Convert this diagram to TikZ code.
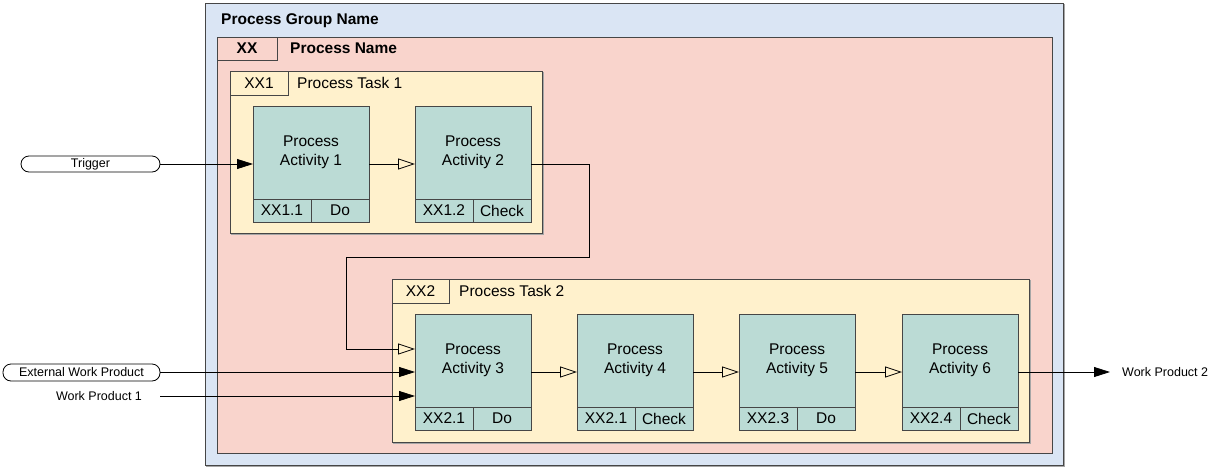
\documentclass[tikz,border=0pt]{standalone}
\usepackage{fontspec}
\setmainfont{Liberation Sans}
\usetikzlibrary{arrows.meta,positioning,calc}
\definecolor{grpblue}{RGB}{218,229,244}
\definecolor{procpink}{RGB}{249,212,204}
\definecolor{taskyel}{RGB}{255,241,204}
\definecolor{actteal}{RGB}{187,219,213}
\definecolor{edge}{RGB}{70,70,70}
\tikzset{
  box/.style={draw=edge, line width=0.9pt, anchor=north west, inner sep=0pt, outer sep=0pt},
  shadowed/.style={preaction={draw=black!35, line width=1.4pt, transform canvas={xshift=1.2pt,yshift=-1.2pt}}},
  bigtxt/.style={font=\fontsize{15.5}{19}\selectfont, inner sep=0pt},
  bigbold/.style={font=\fontsize{15.5}{19}\selectfont\bfseries, inner sep=0pt},
  smalltxt/.style={font=\fontsize{12.5}{15}\selectfont, inner sep=0pt},
  act/.style={box, fill=actteal, minimum width=116pt, minimum height=116pt},
  cell/.style={draw=edge, line width=0.9pt, fill=actteal, minimum width=58pt, minimum height=23pt, inner sep=0pt, outer sep=0pt, font=\fontsize{15.5}{19}\selectfont},
  acttxt/.style={bigtxt, align=center},
  flow/.style={draw=black, line width=0.8pt, -{Triangle[open, length=17pt, width=11pt]}},
  inflow/.style={draw=black, line width=0.8pt, -{Triangle[length=16pt, width=10pt]}},
  pill/.style={draw=black, line width=0.8pt, rounded corners=8pt, fill=white, inner sep=0pt, smalltxt},
}
\newcommand{\activitybox}[6]{%
  \node[act] (#1) at (#2,#3) {};
  \node[cell, anchor=south west] (#1-id) at (#1.south west) {#5};
  \node[cell, anchor=south east] (#1-k) at (#1.south east) {#6};
  \node[acttxt] (#1-t) at ([yshift=-46.5pt]#1.north) {Process\\Activity #4};
}
\begin{document}
\begin{tikzpicture}[x=1pt,y=-1pt]
\useasboundingbox (0,0) rectangle (1212,466);
% group
\node[box, shadowed, fill=grpblue, minimum width=858pt, minimum height=462pt] (grp) at (205,3) {};
\node[bigbold, anchor=west] (grpname) at (221,20.5) {Process Group Name};
% process
\node[box, fill=procpink, minimum width=835pt, minimum height=416pt] (proc) at (217,37) {};
\node[box, fill=procpink, minimum width=60pt, minimum height=23pt] (proctab) at (217,37) {};
\node[bigbold] (proctabtxt) at (proctab.center) {XX};
\node[bigbold, anchor=west] (procname) at (290,48.5) {Process Name};
% task 1
\node[box, shadowed, fill=taskyel, minimum width=312pt, minimum height=162pt] (t1) at (230,71) {};
\node[box, fill=taskyel, minimum width=58pt, minimum height=24pt] (t1tab) at (230,71) {};
\node[bigtxt] (t1tabtxt) at (t1tab.center) {XX1};
\node[bigtxt, anchor=west] (t1name) at (297,83) {Process Task 1};
% task 2
\node[box, shadowed, fill=taskyel, minimum width=637pt, minimum height=163pt] (t2) at (392,279) {};
\node[box, fill=taskyel, minimum width=57pt, minimum height=24pt] (t2tab) at (392,279) {};
\node[bigtxt] (t2tabtxt) at (t2tab.center) {XX2};
\node[bigtxt, anchor=west] (t2name) at (459,291) {Process Task 2};
% activities
\activitybox{a1}{253}{106}{1}{XX1.1}{Do}
\activitybox{a2}{415}{106}{2}{XX1.2}{Check}
\activitybox{a3}{415}{314}{3}{XX2.1}{Do}
\activitybox{a4}{577}{314}{4}{XX2.1}{Check}
\activitybox{a5}{739}{314}{5}{XX2.3}{Do}
\activitybox{a6}{902}{314}{6}{XX2.4}{Check}
% external items
\node[pill, minimum width=139pt, minimum height=16pt] (trig) at (90.5,164) {Trigger};
\node[pill, minimum width=157pt, minimum height=17pt] (ewp) at (81.5,372.5) {External Work Product};
\node[smalltxt] (wp1) at (99,396) {Work Product 1};
\coordinate (wp1s) at (160,396);
\coordinate (wp2e) at (1110,372);
\node[smalltxt, anchor=west] (wp2) at (1122,372) {Work Product 2};
\coordinate (c1) at (589,257);
\coordinate (c2) at (346,257);
% connectors
\draw[inflow] (trig.east) -- (a1.west);
\draw[flow] (a1.east) -- (a2.west);
\draw[flow] (a2.east) -| (c1) -- (c2) |- ([yshift=23pt]a3.west);
\draw[inflow] (ewp.east |- a3.west) -- (a3.west);
\draw[inflow] (wp1s) -- ([yshift=-24pt]a3.west);
\draw[flow] (a3.east) -- (a4.west);
\draw[flow] (a4.east) -- (a5.west);
\draw[flow] (a5.east) -- (a6.west);
\draw[inflow] (a6.east) -- (wp2e);
\end{tikzpicture}
\end{document}
